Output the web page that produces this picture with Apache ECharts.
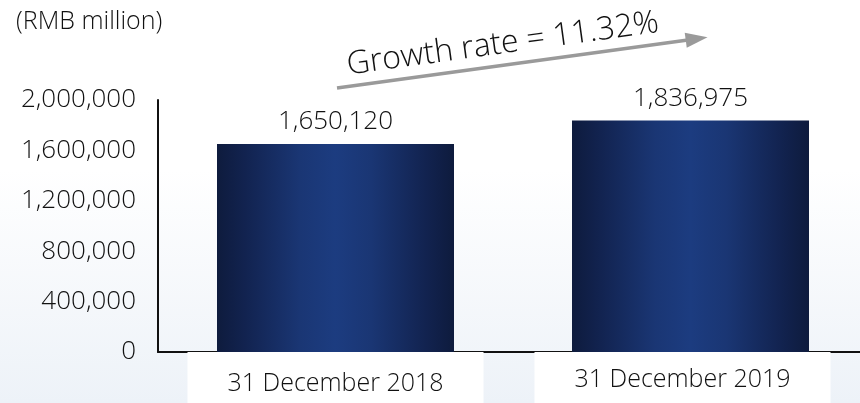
<!DOCTYPE html>
<html>
<head>
<meta charset="utf-8">
<script src="https://cdn.jsdelivr.net/npm/echarts@6/dist/echarts.min.js"></script>
<style>
  html, body { margin: 0; padding: 0; background: #fff; }
  #chart { width: 860px; height: 403px; }
</style>
</head>
<body>
<div id="chart"></div>
<script>
// Total assets at year end (RMB million)
const categories = ['31 December 2018', '31 December 2019'];
const totals = [1650120, 1836975];
const yTicks = [0, 400000, 800000, 1200000, 1600000, 2000000];
const unitLabel = '(RMB million)';
const growthLabel = 'Growth rate = 11.32%';

const FONT = '"Open Sans", "Noto Sans", sans-serif';
const WEIGHT = 300;
const fmt = v => v.toLocaleString('en-US');

const barFill = {
  type: 'linear', x: 0, y: 0, x2: 1, y2: 0,
  colorStops: [
    { offset: 0, color: '#0e1b3d' },
    { offset: 0.12, color: '#122350' },
    { offset: 0.35, color: '#1a3674' },
    { offset: 0.5, color: '#1c3c80' },
    { offset: 0.65, color: '#1a3674' },
    { offset: 0.88, color: '#122350' },
    { offset: 1, color: '#0e1b3d' }
  ]
};

const chart = echarts.init(document.getElementById('chart'));
const arrowAngle = 7.8 * Math.PI / 180;

chart.setOption({
  animation: false,
  backgroundColor: {
    type: 'linear', x: 0, y: 0, x2: 0, y2: 1,
    colorStops: [
      { offset: 0, color: '#ffffff' },
      { offset: 0.42, color: '#ffffff' },
      { offset: 1, color: '#edf2f8' }
    ]
  },
  grid: { left: 158, width: 710, top: 100, bottom: 51, containLabel: false, outerBoundsMode: 'none' },
  xAxis: {
    type: 'category',
    data: categories,
    axisLine: { show: true, lineStyle: { color: '#111', width: 2 } },
    axisTick: { show: false },
    axisLabel: {
      margin: 13,
      // second label sits a little left of its tick, hence the trailing spacer
      formatter: (v, i) => (i === 0 ? '{a|' + v + '}' : '{b|' + v + '}{gap|}'),
      rich: {
        a: {
          fontFamily: FONT, fontWeight: WEIGHT, fontSize: 25, color: '#111',
          backgroundColor: '#ffffff', padding: [19, 40, 10, 40], lineHeight: 28
        },
        b: {
          fontFamily: FONT, fontWeight: WEIGHT, fontSize: 25, color: '#111',
          backgroundColor: '#ffffff', padding: [15, 40, 14, 40], lineHeight: 28
        },
        gap: { width: 16 }
      }
    }
  },
  yAxis: {
    type: 'value',
    min: yTicks[0],
    max: yTicks[yTicks.length - 1],
    interval: yTicks[1] - yTicks[0],
    axisLine: { show: true, lineStyle: { color: '#111', width: 2 } },
    axisTick: { show: false },
    splitLine: { show: false },
    axisLabel: {
      margin: 22,
      fontFamily: FONT, fontWeight: WEIGHT, fontSize: 26, color: '#111',
      formatter: v => fmt(v)
    }
  },
  series: [{
    type: 'bar',
    data: totals,
    barWidth: 237,
    itemStyle: { color: barFill },
    label: {
      show: true, position: 'top', distance: 9,
      fontFamily: FONT, fontWeight: WEIGHT, fontSize: 26, color: '#111',
      formatter: p => fmt(p.value)
    }
  }],
  graphic: [
    {
      type: 'text', left: 16, top: 9,
      style: { text: unitLabel, fontFamily: FONT, fontWeight: WEIGHT, fontSize: 25, fill: '#111' }
    },
    {
      type: 'group', x: 337, y: 88, rotation: arrowAngle,
      children: [
        { type: 'line', shape: { x1: 0, y1: 0, x2: 356, y2: 0 },
          style: { stroke: '#9a9a9a', lineWidth: 3.5 } },
        { type: 'polygon', shape: { points: [[352, -7.5], [374, 0], [352, 7.5]] },
          style: { fill: '#9a9a9a' } },
        { type: 'text', x: 13, y: -37,
          style: { text: growthLabel, fontFamily: FONT, fontWeight: WEIGHT, fontSize: 32, fill: '#111' } }
      ]
    }
  ]
});
</script>
</body>
</html>
